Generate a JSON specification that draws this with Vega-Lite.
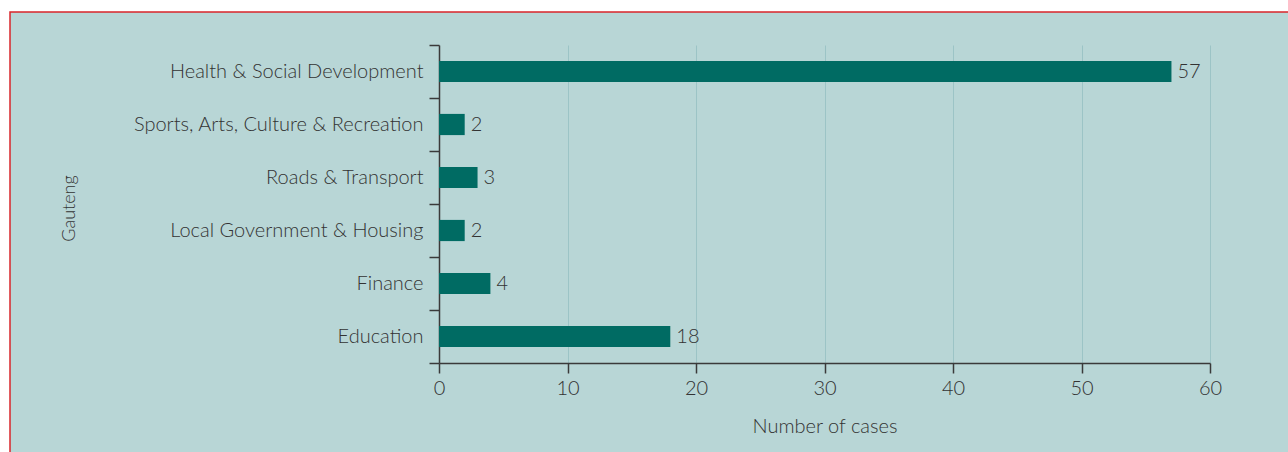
{
  "$schema": "https://vega.github.io/schema/vega-lite/v6.json",
  "autosize": "none",
  "width": 1280,
  "height": 442,
  "padding": {"left": 10, "top": 12, "right": 0, "bottom": 0},
  "background": "#ffffff",
  "config": {
    "view": {"fill": "#b8d6d6", "stroke": "#d9262b", "strokeWidth": 1.5},
    "font": "Lato",
    "axis": {
      "labelFont": "Lato",
      "titleFont": "Lato",
      "labelFontWeight": 300,
      "titleFontWeight": 300,
      "labelColor": "#333333",
      "titleColor": "#333333",
      "domainColor": "#3a3a3a",
      "tickColor": "#3a3a3a",
      "domainWidth": 1.5,
      "tickWidth": 1.5,
      "labelFontSize": 20,
      "titleFontSize": 20,
      "labelLimit": 500
    }
  },
  "data": {
    "values": [
      {"department": "Health & Social Development", "cases": 57},
      {"department": "Sports, Arts, Culture & Recreation", "cases": 2},
      {"department": "Roads & Transport", "cases": 3},
      {"department": "Local Government & Housing", "cases": 2},
      {"department": "Finance", "cases": 4},
      {"department": "Education", "cases": 18}
    ]
  },
  "encoding": {
    "y": {
      "field": "department",
      "type": "nominal",
      "sort": null,
      "scale": {"range": [33, 351], "paddingInner": 0, "paddingOuter": 0},
      "axis": {
        "title": "Gauteng",
        "titleFontSize": 18,
        "offset": -429,
        "tickBand": "extent",
        "tickSize": 10,
        "labelPadding": 6,
        "grid": false,
        "titleX": -370,
        "titleY": 196,
        "titleAngle": -90,
        "titleAlign": "center",
        "titleBaseline": "middle"
      }
    },
    "x": {
      "field": "cases",
      "type": "quantitative",
      "scale": {"domain": [0, 60], "range": [429, 1200], "nice": false}
    }
  },
  "resolve": {"axis": {"x": "independent"}},
  "layer": [
    {
      "mark": {"type": "bar", "color": "#006b63", "height": {"band": 0.4}},
      "encoding": {
        "x": {
          "field": "cases",
          "type": "quantitative",
          "axis": {
            "title": "Number of cases",
            "orient": "bottom",
            "offset": -91,
            "values": [0, 10, 20, 30, 40, 50, 60],
            "tickSize": 10,
            "labelPadding": 5,
            "labelFlush": false,
            "grid": false,
            "titleY": 63,
            "titleBaseline": "middle"
          }
        }
      }
    },
    {
      "mark": {"type": "text", "align": "left", "baseline": "middle", "dx": 6, "font": "Lato", "fontWeight": 300, "fontSize": 20, "color": "#333333"},
      "encoding": {
        "x": {
          "field": "cases",
          "type": "quantitative",
          "axis": {
            "orient": "top",
            "title": null,
            "values": [10, 20, 30, 40, 50, 60],
            "domain": false,
            "ticks": false,
            "labels": false,
            "grid": true,
            "gridColor": "#9cc4c6",
            "gridWidth": 1
          }
        },
        "text": {"field": "cases", "type": "quantitative"}
      }
    }
  ]
}
